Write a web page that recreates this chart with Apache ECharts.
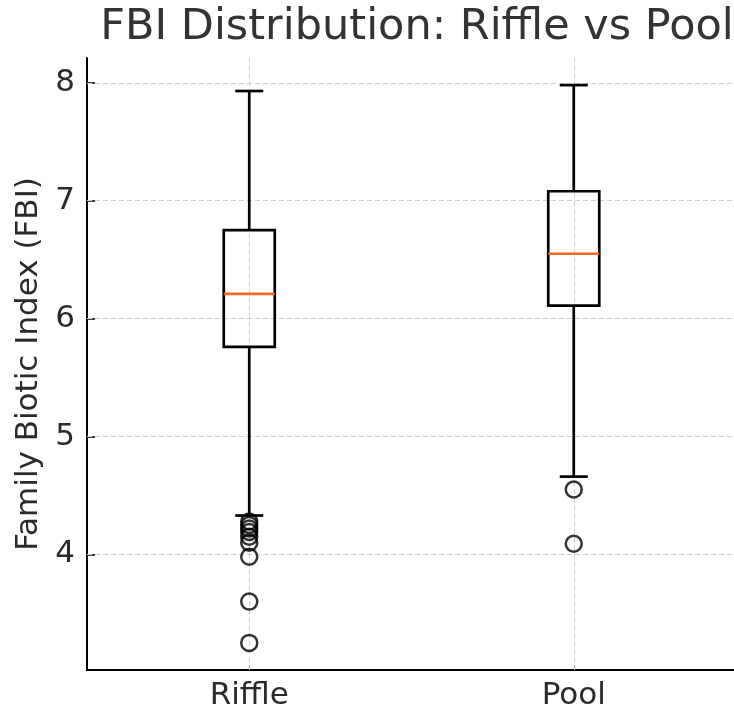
<!DOCTYPE html>
<html>
<head>
<meta charset="utf-8">
<script src="https://cdn.jsdelivr.net/npm/echarts@6/dist/echarts.min.js"></script>
<style>
  html, body { margin: 0; padding: 0; background: #fff; }
  #chart { width: 734px; height: 707px; }
</style>
</head>
<body>
<div id="chart"></div>
<script>
var categories = ['Riffle', 'Pool'];
var whiskerLow = [4.33, 4.66];
var q1 = [5.76, 6.11];
var median = [6.21, 6.55];
var q3 = [6.75, 7.08];
var whiskerHigh = [7.93, 7.98];
var riffleOutliers = [4.28, 4.25, 4.22, 4.19, 4.15, 4.10, 3.98, 3.60, 3.25];
var poolOutliers = [4.55, 4.09];
var yTicks = [4, 5, 6, 7, 8];

var boxData = categories.map(function (c, i) {
	return [i, whiskerLow[i], q1[i], median[i], q3[i], whiskerHigh[i]];
});
var outlierData = [];
riffleOutliers.forEach(function (v) { outlierData.push([0, v]); });
poolOutliers.forEach(function (v) { outlierData.push([1, v]); });

var font = 'DejaVu Sans';
var gridStyle = { type: [5, 3], color: '#cfcfcf', width: 1 };

function renderBox(params, api) {
	var x = api.value(0);
	var lo = api.coord([x, api.value(1)]);
	var b1 = api.coord([x, api.value(2)]);
	var md = api.coord([x, api.value(3)]);
	var b3 = api.coord([x, api.value(4)]);
	var hi = api.coord([x, api.value(5)]);
	var cx = lo[0];
	var hw = 25.5, cw = 14;
	var black = { stroke: '#000', lineWidth: 2.7, fill: null };
	return {
		type: 'group',
		children: [
			{ type: 'line', shape: { x1: cx, y1: lo[1], x2: cx, y2: b1[1] }, style: black },
			{ type: 'line', shape: { x1: cx, y1: b3[1], x2: cx, y2: hi[1] }, style: black },
			{ type: 'line', shape: { x1: cx - cw, y1: lo[1], x2: cx + cw, y2: lo[1] }, style: black },
			{ type: 'line', shape: { x1: cx - cw, y1: hi[1], x2: cx + cw, y2: hi[1] }, style: black },
			{ type: 'rect', shape: { x: cx - hw, y: b3[1], width: hw * 2, height: b1[1] - b3[1] }, style: { stroke: '#000', lineWidth: 2.7, fill: 'none' } },
			{ type: 'line', shape: { x1: cx - hw, y1: md[1], x2: cx + hw, y2: md[1] }, style: { stroke: '#f06a25', lineWidth: 2.7 } }
		]
	};
}

var myChart = echarts.init(document.getElementById('chart'));
var option = {
	animation: false,
	title: {
		text: 'FBI Distribution: Riffle vs Pool',
		left: 412,
		textAlign: 'center',
		top: 1,
		textStyle: { fontFamily: font, fontSize: 43, fontWeight: 'normal', color: '#333' }
	},
	grid: { left: 87, right: -2, top: 58, bottom: 37, outerBoundsMode: 'none', containLabel: false },
	xAxis: {
		type: 'category',
		data: categories,
		boundaryGap: true,
		axisLine: { lineStyle: { color: '#000', width: 2 } },
		axisTick: { alignWithLabel: true, inside: true, length: 8, lineStyle: { color: '#000', width: 1.5 } },
		axisLabel: { fontFamily: font, fontSize: 31, color: '#2a2a2a', margin: 10 },
		splitLine: { show: false }
	},
	yAxis: {
		type: 'value',
		min: 3.02,
		max: 8.21,
		name: 'Family Biotic Index (FBI)',
		nameLocation: 'middle',
		nameGap: 43,
		nameTextStyle: { fontFamily: font, fontSize: 31, color: '#2a2a2a' },
		axisLine: { show: true, lineStyle: { color: '#000', width: 2 } },
		axisTick: { show: true, inside: true, length: 8, customValues: yTicks, lineStyle: { color: '#000', width: 1.5 } },
		axisLabel: { fontFamily: font, fontSize: 31, color: '#2a2a2a', margin: 12, customValues: yTicks },
		splitLine: { show: false }
	},
	series: [
		{
			// only carries the dashed grid lines, drawn under the boxes
			type: 'scatter',
			data: [],
			z: 1,
			markLine: {
				z: 1,
				silent: true,
				symbol: 'none',
				label: { show: false },
				lineStyle: gridStyle,
				data: yTicks.map(function (v) { return { yAxis: v }; })
					.concat(categories.map(function (c) { return { xAxis: c }; }))
			}
		},
		{
			type: 'custom',
			renderItem: renderBox,
			data: boxData,
			z: 3
		},
		{
			type: 'scatter',
			data: outlierData,
			symbol: 'circle',
			symbolSize: 16,
			z: 4,
			itemStyle: { color: 'rgba(0,0,0,0)', borderColor: '#000', borderWidth: 2.5 }
		}
	]
};
myChart.setOption(option);
</script>
</body>
</html>
